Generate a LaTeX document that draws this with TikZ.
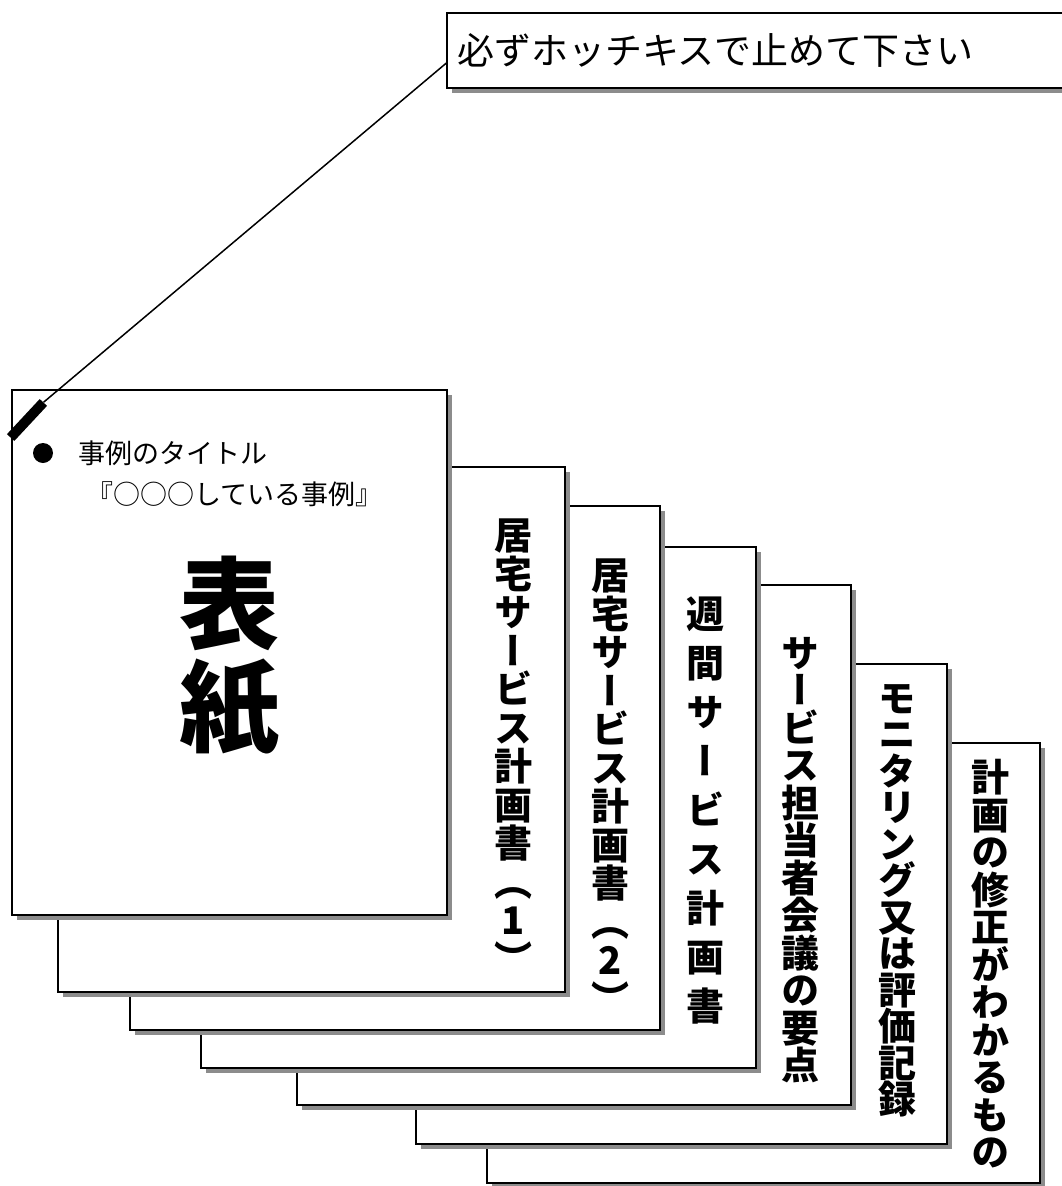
\documentclass[tikz,border=0pt]{standalone}
\usepackage{fontspec}
\newfontfamily\jp{Noto Sans CJK JP}
\newfontfamily\jpv[RawFeature=+vert]{Noto Sans CJK JP}
\usetikzlibrary{shadows}
\definecolor{shadowgray}{gray}{0.55}
\begin{document}
\begin{tikzpicture}[x=1pt,y=-1pt,
  pagebox/.style={draw=black, line width=2pt, fill=white, anchor=north west,
    inner sep=0pt, outer sep=0pt,
    drop shadow={shadow xshift=5pt, shadow yshift=-5pt, fill=shadowgray, opacity=1}},
  vtxt/.style={anchor=north, align=center, inner sep=0pt},
  cover/.style={anchor=west, inner sep=0pt, font=\jp\fontsize{27}{27}\selectfont}]
\useasboundingbox[fill=white] (0,0) rectangle (1061,1186);

% pages, back to front
\node[pagebox, minimum width=553, minimum height=440] (p6) at (487,743) {};
\node[vtxt, font=\jpv\bfseries\fontsize{38}{37.5}\selectfont] (t6) at (990,759)
  {計\\画\\の\\修\\正\\が\\わ\\か\\る\\も\\の};

\node[pagebox, minimum width=531, minimum height=480] (p5) at (416,664) {};
\node[vtxt, font=\jpv\bfseries\fontsize{38}{36.5}\selectfont] (t5) at (897,684)
  {モ\\ニ\\タ\\リ\\ン\\グ\\又\\は\\評\\価\\記\\録};

\node[pagebox, minimum width=554, minimum height=520] (p4) at (297,585) {};
\node[vtxt, font=\jpv\bfseries\fontsize{38}{37.5}\selectfont] (t4) at (800,637)
  {サ\\ー\\ビ\\ス\\担\\当\\者\\会\\議\\の\\要\\点};

\node[pagebox, minimum width=555, minimum height=521] (p3) at (201,547) {};
\node[vtxt, font=\jpv\bfseries\fontsize{38}{49}\selectfont] (t3) at (705,597)
  {週\\間\\サ\\ー\\ビ\\ス\\計\\画\\書};

\node[pagebox, minimum width=530, minimum height=524] (p2) at (130,506) {};
\node[vtxt, font=\jpv\bfseries\fontsize{38}{38.5}\selectfont] (t2) at (610,559)
  {居\\宅\\サ\\ー\\ビ\\ス\\計\\画\\書\\（\\2\\）};

\node[pagebox, minimum width=507, minimum height=525] (p1) at (58,467) {};
\node[vtxt, font=\jpv\bfseries\fontsize{38}{38.5}\selectfont] (t1) at (513,519)
  {居\\宅\\サ\\ー\\ビ\\ス\\計\\画\\書\\（\\1\\）};

% cover
\node[pagebox, minimum width=435, minimum height=525] (p0) at (12,390) {};
\node[circle, fill=black, inner sep=0pt, minimum size=20] (bul) at (43,453) {};
\node[cover] (c1) at (78,453) {事例のタイトル};
\node[cover] (c2) at (86,494) {『○○○している事例』};
\node[inner sep=0pt, font=\jp\bfseries\fontsize{100}{100}\selectfont] (hyo) at (229,603) {表};
\node[inner sep=0pt, font=\jp\bfseries\fontsize{100}{100}\selectfont] (shi) at (229,708) {紙};

% label box at top
\node[pagebox, minimum width=640, minimum height=75, text width=620, align=left,
  inner xsep=7pt, font=\jp\fontsize{37}{37}\selectfont] (lbl) at (447,13) {必ずホッチキスで止めて下さい};

% staple and leader
\node[fill=black, inner sep=0pt, minimum width=48, minimum height=10, rotate=47] (staple) at (27,420) {};
\draw[line width=1.5pt] ([yshift=-12pt]lbl.west) -- (staple.east);
\end{tikzpicture}
\end{document}
